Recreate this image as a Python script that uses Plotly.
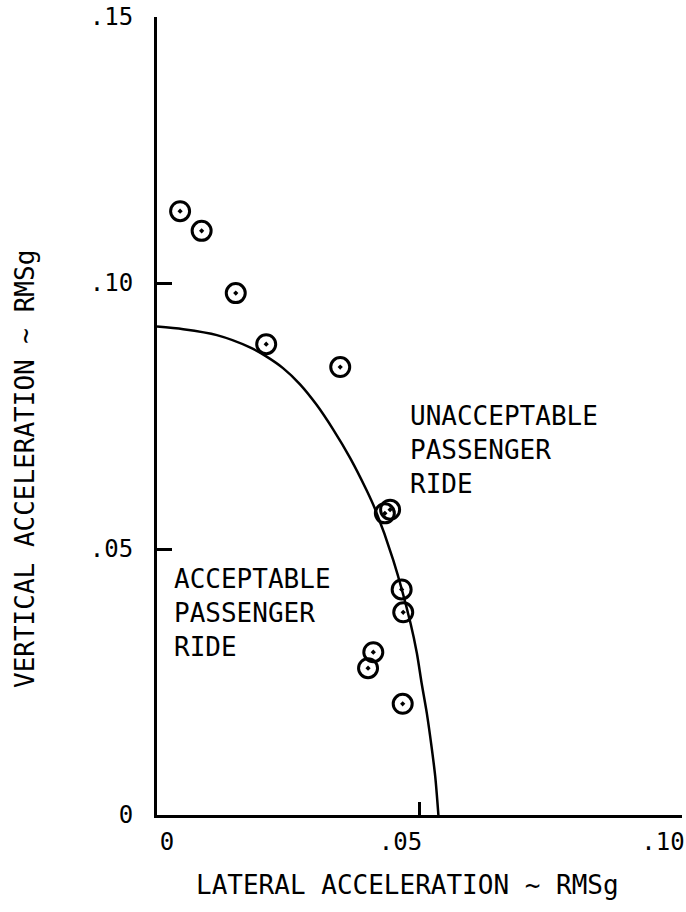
import plotly.graph_objects as go

# Measured ride points (lateral, vertical RMSg)
lateral_pts = [0.0044, 0.0085, 0.0150, 0.0208, 0.0349, 0.0434, 0.0444,
               0.0466, 0.0469, 0.0412, 0.0402, 0.0468]
vertical_pts = [0.1135, 0.1098, 0.0981, 0.0885, 0.0842, 0.0567, 0.0574,
                0.0424, 0.0381, 0.0306, 0.0276, 0.0209]

# Acceptability boundary curve
curve_x = [0.0, 0.0050, 0.0114, 0.0177, 0.0208, 0.0240, 0.0272, 0.0304, 0.0336,
           0.0368, 0.0399, 0.0415, 0.0450, 0.0483, 0.0495, 0.0504, 0.0514, 0.0523,
           0.0530, 0.0536]
curve_y = [0.0918, 0.0913, 0.0902, 0.0879, 0.0862, 0.0840, 0.0810, 0.0771, 0.0724,
           0.0671, 0.0611, 0.0576, 0.0479, 0.0360, 0.0304, 0.0248, 0.0191, 0.0128,
           0.0072, 0.0]

x_ticks = [0, 0.05, 0.10]
x_ticktext = ["\u00a0\u00a0\u00a0\u00a00", ".05", ".10"]
y_ticks = [0, 0.05, 0.10, 0.15]
y_ticktext = ["0", ".05", ".10", ".15"]

FONT = "DejaVu Sans Mono"

fig = go.Figure()
fig.add_trace(go.Scatter(x=curve_x, y=curve_y, mode="lines",
                         line=dict(color="black", width=2.5, shape="spline", smoothing=0.8),
                         hoverinfo="skip", showlegend=False))
fig.add_trace(go.Scatter(x=lateral_pts, y=vertical_pts, mode="markers",
                         marker=dict(symbol="circle-open-dot", size=19, color="black",
                                     line=dict(color="black", width=3)),
                         cliponaxis=False, showlegend=False))

fig.add_annotation(x=0.0478, y=(815 - 450) / 5320, xref="x", yref="y",
                   text="UNACCEPTABLE<br>PASSENGER<br>RIDE", showarrow=False,
                   xanchor="left", yanchor="middle", align="left",
                   font=dict(family=FONT, size=26, color="black"))
fig.add_annotation(x=0.0029, y=(815 - 613) / 5320, xref="x", yref="y",
                   text="ACCEPTABLE<br>PASSENGER<br>RIDE", showarrow=False,
                   xanchor="left", yanchor="middle", align="left",
                   font=dict(family=FONT, size=26, color="black"))
fig.add_annotation(x=(407 - 157) / 525, y=(815 - 885) / 798, xref="paper", yref="paper",
                   text="LATERAL ACCELERATION ~ RMSg", showarrow=False,
                   xanchor="center", yanchor="middle",
                   font=dict(family=FONT, size=26, color="black"))
fig.add_annotation(x=(25 - 157) / 525, y=(815 - 469) / 798, xref="paper", yref="paper",
                   text="VERTICAL ACCELERATION ~ RMSg", showarrow=False, textangle=-90,
                   xanchor="center", yanchor="middle",
                   font=dict(family=FONT, size=26, color="black"))

fig.update_xaxes(range=[0, 0.10], tickvals=x_ticks, ticktext=x_ticktext,
                 ticks="inside", ticklen=13, tickwidth=2.5, tickcolor="black",
                 showline=True, linecolor="black", linewidth=3,
                 showgrid=False, zeroline=False, ticklabelshift=-19,
                 ticklabelstandoff=3, ticklabeloverflow="allow", automargin=False,
                 tickfont=dict(family=FONT, size=24, color="black"))
fig.update_yaxes(range=[0, 0.15], tickvals=y_ticks, ticktext=y_ticktext,
                 ticks="inside", ticklen=15, tickwidth=2.5, tickcolor="black",
                 showline=True, linecolor="black", linewidth=3,
                 showgrid=False, zeroline=False, ticklabelstandoff=16,
                 ticklabeloverflow="allow", automargin=False,
                 tickfont=dict(family=FONT, size=24, color="black"))

fig.update_layout(width=686, height=912, margin=dict(l=157, r=4, t=17, b=97),
                  plot_bgcolor="white", paper_bgcolor="white", showlegend=False)

fig.write_html("out.html", config={"displayModeBar": False},
               post_script="document.body.style.margin='0';")
